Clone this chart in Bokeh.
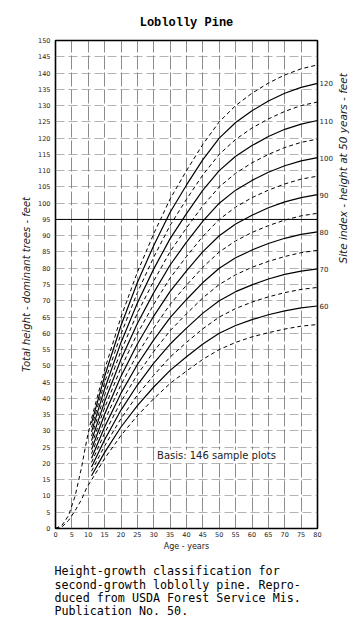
from bokeh.plotting import figure
from bokeh.layouts import row
from bokeh.models import Range1d, LinearAxis, FixedTicker, Label, Span, Title
from bokeh.core.properties import value
from bokeh.embed import file_html
from bokeh.resources import INLINE
import math

# ---- data ----
x_ticks = [0, 5, 10, 15, 20, 25, 30, 35, 40, 45, 50, 55, 60, 65, 70, 75, 80]
y_ticks = [0, 5, 10, 15, 20, 25, 30, 35, 40, 45, 50, 55, 60, 65, 70, 75, 80, 85,
           90, 95, 100, 105, 110, 115, 120, 125, 130, 135, 140, 145, 150]
si_ticks = [60, 70, 80, 90, 100, 110, 120]

ages = [11, 15, 20, 25, 30, 35, 40, 45, 50, 55, 60, 65, 70, 75, 80]
early_ages = [0, 2, 4, 6, 8, 9.5]

# outer envelope curves (dashed) start at the origin
h125_early = [0, 1, 4, 10, 19, 27]
h55_early = [0, 0.5, 2.5, 5.5, 9, 12.5]

h55 = [14.9, 21.5, 28.6, 34.7, 39.9, 44.6, 48.4, 52.0, 55, 57.2, 58.9, 60.2, 61.3, 62.2, 62.7]
h60 = [16.2, 23.4, 31.2, 37.8, 43.5, 48.6, 52.8, 56.7, 60, 62.4, 64.2, 65.7, 66.9, 67.8, 68.4]
h65 = [17.6, 25.4, 33.8, 41.0, 47.1, 52.7, 57.2, 61.4, 65, 67.6, 69.6, 71.2, 72.5, 73.5, 74.1]
h70 = [18.9, 27.3, 36.4, 44.1, 50.8, 56.7, 61.6, 66.2, 70, 72.8, 74.9, 76.7, 78.1, 79.1, 79.8]
h75 = [20.3, 29.3, 39.0, 47.3, 54.4, 60.8, 66.0, 70.9, 75, 78.0, 80.3, 82.1, 83.6, 84.8, 85.5]
h80 = [21.6, 31.2, 41.6, 50.4, 58.0, 64.8, 70.4, 75.6, 80, 83.2, 85.6, 87.6, 89.2, 90.4, 91.2]
h85 = [23.0, 33.2, 44.2, 53.6, 61.6, 68.9, 74.8, 80.3, 85, 88.4, 91.0, 93.1, 94.8, 96.1, 96.9]
h90 = [24.3, 35.1, 46.8, 56.7, 65.3, 72.9, 79.2, 85.1, 90, 93.6, 96.3, 98.6, 100.4, 101.7, 102.6]
h95 = [25.7, 37.1, 49.4, 59.9, 68.9, 77.0, 83.6, 89.8, 95, 98.8, 101.7, 104.0, 105.9, 107.4, 108.3]
h100 = [27.0, 39.0, 52.0, 63.0, 72.5, 81.0, 88.0, 94.5, 100, 104.0, 107.0, 109.5, 111.5, 113.0, 114.0]
h105 = [28.4, 41.0, 54.6, 66.2, 76.1, 85.1, 92.4, 99.2, 105, 109.2, 112.4, 115.0, 117.1, 118.7, 119.7]
h110 = [29.7, 42.9, 57.2, 69.3, 79.8, 89.1, 96.8, 104.0, 110, 114.4, 117.7, 120.5, 122.7, 124.3, 125.4]
h115 = [31.1, 44.9, 59.8, 72.5, 83.4, 93.2, 101.2, 108.7, 115, 119.6, 123.1, 125.9, 128.2, 130.0, 131.1]
h120 = [32.4, 46.8, 62.4, 75.6, 87.0, 97.2, 105.6, 113.4, 120, 124.8, 128.4, 131.4, 133.8, 135.6, 136.8]
h125 = [33.8, 48.8, 65.0, 78.8, 90.6, 101.3, 110.0, 118.1, 125, 130.0, 133.8, 136.9, 139.4, 141.3, 142.5]

solid_curves = [h60, h70, h80, h90, h100, h110, h120]
dashed_curves = [h65, h75, h85, h95, h105, h115]

title_text = "Loblolly Pine"
right_title = "Site index - height at 50 years - feet"
caption_lines = ["Height-growth classification for",
                 "second-growth loblolly pine. Repro-",
                 "duced from USDA Forest Service Mis.",
                 "Publication No. 50."]

# ---- main figure ----
H = 630
W_MAIN, W_SIDE = 335, 19
FL, FR, FT, FB = 55, 14, 40, 102   # margins around the frame
p = figure(width=W_MAIN, height=H, output_backend="svg", toolbar_location=None,
           x_range=Range1d(0, 80), y_range=Range1d(0, 150),
           min_border_left=FL, min_border_right=FR, min_border_top=FT,
           min_border_bottom=FB)
p.background_fill_color = "white"
p.border_fill_color = "white"
p.outline_line_color = "black"
p.outline_line_width = 1.6

# title
p.title.text = title_text
p.title.align = "center"
p.title.offset = -5
p.title.text_font = "Liberation Mono"
p.title.text_font_size = "12px"
p.title.text_font_style = "bold"
p.title.text_color = "black"
p.title.standoff = 22

tick_font = "DejaVu Sans"
for ax in (p.xaxis[0], p.yaxis[0]):
    ax.major_tick_line_color = None
    ax.minor_tick_line_color = None
    ax.major_tick_out = 0
    ax.major_tick_in = 0
    ax.minor_tick_out = 0
    ax.minor_tick_in = 0
    ax.axis_line_color = None
    ax.major_label_text_font = tick_font
    ax.major_label_text_font_size = "6.5px"
    ax.major_label_text_color = "#222222"
    ax.axis_label_text_font = tick_font
    ax.axis_label_text_color = "#222222"

p.xaxis.ticker = FixedTicker(ticks=x_ticks)
p.yaxis.ticker = FixedTicker(ticks=y_ticks)
p.xaxis.major_label_standoff = 3
p.yaxis.major_label_standoff = 5
p.xaxis.axis_label = "Age - years"
p.xaxis.axis_label_text_font_size = "8px"
p.xaxis.axis_label_text_font_style = "normal"
p.xaxis.axis_label_standoff = 2
p.yaxis.axis_label = "Total height - dominant trees - feet"
p.yaxis.axis_label_text_font_size = "10px"
p.yaxis.axis_label_text_font_style = "italic"
p.yaxis.axis_label_standoff = 3

# right axis: site index (height at 50 years), aligned to curve ends at age 80
p.extra_y_ranges = {"si": Range1d(0, 150 * si_ticks[-1] / h120[-1])}
ra = LinearAxis(y_range_name="si", ticker=FixedTicker(ticks=si_ticks))
ra.major_tick_line_color = None
ra.minor_tick_line_color = None
ra.major_tick_out = 0
ra.major_tick_in = 0
ra.minor_tick_out = 0
ra.minor_tick_in = 0
ra.axis_line_color = None
ra.major_label_text_font = tick_font
ra.major_label_text_font_size = "7px"
ra.major_label_text_color = "#222222"
ra.major_label_standoff = 2
p.add_layout(ra, "right")

# grid
p.xgrid.ticker = FixedTicker(ticks=x_ticks)
p.ygrid.ticker = FixedTicker(ticks=y_ticks)
p.xgrid.grid_line_color = "#5a5a5a"
p.xgrid.grid_line_width = 0.7
p.xgrid.grid_line_dash = "14 3"
p.ygrid.grid_line_color = "#808080"
p.ygrid.grid_line_width = 0.6
p.ygrid.grid_line_dash = "9 4"
p.add_layout(Span(location=95, dimension="width", line_color="black", line_width=1.0))

# curves
for h in solid_curves:
    p.line(ages, h, line_color="black", line_width=1.2)
for h in dashed_curves:
    p.line(ages, h, line_color="black", line_width=1.0, line_dash="4 3")
p.line(early_ages + ages, h125_early + h125, line_color="black", line_width=1.0, line_dash="4 3")
p.line(early_ages + ages, h55_early + h55, line_color="black", line_width=1.0, line_dash="4 3")

# note box
p.add_layout(Label(x=31, y=22.5, text="Basis: 146  sample plots", text_font=tick_font,
                   text_font_size="10px", text_color="#222222", text_baseline="middle",
                   background_fill_color="white", border_line_color=None))

# caption below the chart
cap = Title(text="\n".join(caption_lines), align="left", offset=-1,
            text_font="DejaVu Sans Mono", text_font_size="11.7px",
            text_font_style="normal", text_color="black", standoff=18,
            text_line_height=0.96)
p.add_layout(cap, "below")

# ---- side strip carrying the right-hand axis title ----
side = figure(width=W_SIDE, height=H, output_backend="svg", toolbar_location=None,
              x_range=Range1d(0, W_SIDE), y_range=Range1d(0, H),
              min_border=0, min_border_left=0, min_border_right=0,
              min_border_top=0, min_border_bottom=0)
side.axis.visible = False
side.grid.visible = False
side.outline_line_color = None
side.background_fill_color = "white"
side.border_fill_color = "white"
side.text(x=[7], y=[H - 165], text=[right_title], angle=math.pi / 2,
          text_font=value(tick_font), text_font_size="10.5px", text_font_style="italic",
          text_color="#222222", text_align="center", text_baseline="middle")

layout = row(p, side, spacing=0)
open("out.html", "w").write(file_html(layout, INLINE))
